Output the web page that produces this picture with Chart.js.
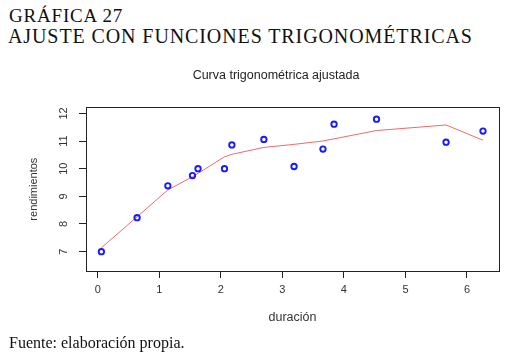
<!DOCTYPE html>
<html>
<head>
<meta charset="utf-8">
<script src="https://cdn.jsdelivr.net/npm/chart.js@4"></script>
<style>
html,body{margin:0;padding:0;width:510px;height:358px;overflow:hidden;background:#fff;}
#wrap{position:absolute;left:0;top:0;width:552px;height:358px;}
.hdr{position:absolute;left:9px;font-family:"Liberation Serif","DejaVu Serif",serif;color:#111;white-space:nowrap;}
</style>
</head>
<body>
<div class="hdr" id="h1" style="top:5px;font-size:19px;letter-spacing:0.8px;">GRÁFICA 27</div>
<div class="hdr" id="h2" style="top:24.5px;font-size:20px;letter-spacing:0.9px;left:8px;">AJUSTE CON FUNCIONES TRIGONOMÉTRICAS</div>
<div id="wrap"><canvas id="c" width="552" height="358"></canvas></div>
<div class="hdr" id="f" style="top:334px;font-size:16px;">Fuente: elaboración propia.</div>
<script>
const duracion = [0.06, 0.64, 1.14, 1.54, 1.63, 2.06, 2.18, 2.70, 3.19, 3.66, 3.84, 4.53, 5.66, 6.26];
const rendimientos = [7.00, 8.23, 9.38, 9.75, 10.00, 10.00, 10.86, 11.06, 10.08, 10.71, 11.61, 11.79, 10.96, 11.36];
const ajustado = [7.14, 8.26, 9.23, 9.71, 9.83, 10.43, 10.52, 10.77, 10.88, 11.00, 11.08, 11.38, 11.58, 11.03];
const xTicks = [0, 1, 2, 3, 4, 5, 6];
const yTicks = [7, 8, 9, 10, 11, 12];

const boxPlugin = {
  id: 'box',
  afterDraw(chart) {
    const a = chart.chartArea, ctx = chart.ctx;
    ctx.save();
    ctx.strokeStyle = '#222';
    ctx.lineWidth = 1;
    ctx.strokeRect(Math.round(a.left) + 0.5, Math.round(a.top) + 0.5, Math.round(a.right - a.left), Math.round(a.bottom - a.top));
    ctx.restore();
  }
};

const font = {family: '"Liberation Sans", Arial, sans-serif', size: 11};
const xTitleFont = {family: '"Liberation Sans", Arial, sans-serif', size: 12.5};

new Chart(document.getElementById('c'), {
  type: 'scatter',
  data: {
    datasets: [
      {
        data: duracion.map((x, i) => ({x: x, y: ajustado[i]})),
        showLine: true,
        borderColor: '#f06a6a',
        borderWidth: 1,
        pointRadius: 0,
        fill: false,
        order: 2
      },
      {
        data: duracion.map((x, i) => ({x: x, y: rendimientos[i]})),
        showLine: false,
        pointRadius: 2.7,
        pointBorderWidth: 1.9,
        pointBorderColor: '#1a1aff',
        pointBackgroundColor: 'rgba(0,0,0,0)',
        order: 1
      }
    ]
  },
  options: {
    responsive: false,
    animation: false,
    events: [],
    layout: {padding: 0},
    plugins: {
      legend: {display: false},
      tooltip: {enabled: false},
      title: {
        display: true,
        text: 'Curva trigonométrica ajustada',
        color: '#222',
        font: {family: '"Liberation Sans", Arial, sans-serif', size: 12.5, weight: 'normal'},
        padding: {top: 68, bottom: 24.3}
      }
    },
    scales: {
      x: {
        type: 'linear',
        min: -0.19,
        max: 6.52,
        afterBuildTicks: s => { s.ticks = xTicks.map(v => ({value: v})); },
        afterFit: s => { s.height = 87; },
        grid: {drawOnChartArea: false, tickLength: 7, color: '#222', tickColor: '#222'},
        border: {display: true, color: '#222'},
        ticks: {color: '#333', font: font, padding: 5, autoSkip: false, maxRotation: 0},
        title: {display: true, text: 'duración', color: '#333', font: xTitleFont, padding: {top: 0, bottom: 33}}
      },
      y: {
        type: 'linear',
        min: 6.3,
        max: 12.22,
        afterBuildTicks: s => { s.ticks = yTicks.map(v => ({value: v})); },
        afterFit: s => { s.width = 86; },
        grid: {drawOnChartArea: false, tickLength: 7, color: '#222', tickColor: '#222'},
        border: {display: true, color: '#222'},
        ticks: {color: '#333', font: font, padding: 9, autoSkip: false, minRotation: 90, maxRotation: 90, crossAlign: 'center'},
        title: {display: true, text: 'rendimientos', color: '#333', font: font, padding: {top: 27, bottom: 0}}
      },
      spacer: {
        type: 'linear',
        position: 'right',
        display: true,
        afterFit: s => { s.width = 53; },
        grid: {display: false},
        border: {display: false},
        ticks: {display: false}
      }
    }
  },
  plugins: [boxPlugin]
});
</script>
</body>
</html>
